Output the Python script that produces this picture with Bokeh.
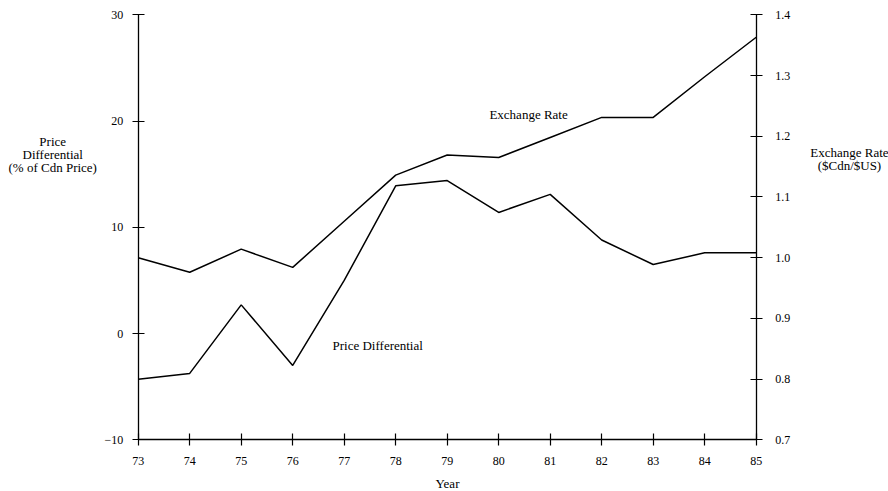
from bokeh.plotting import figure
from bokeh.models import (Range1d, LinearAxis, FixedTicker, Label, CustomJSTickFormatter)
from bokeh.embed import file_html
from bokeh.resources import INLINE

years = [73, 74, 75, 76, 77, 78, 79, 80, 81, 82, 83, 84, 85]
exchange_rate = [1.000, 0.976, 1.014, 0.984, 1.060, 1.136, 1.169, 1.165, 1.198, 1.231, 1.231, 1.298, 1.363]
price_diff = [-4.3, -3.75, 2.7, -3.0, 5.0, 13.9, 14.4, 11.4, 13.1, 8.8, 6.5, 7.6, 7.6]
left_ticks = [-10, 0, 10, 20, 30]
right_ticks = [0.7, 0.8, 0.9, 1.0, 1.1, 1.2, 1.3, 1.4]

FONT = "Liberation Serif"

# frame covers the whole canvas; axes are pinned with fixed_location
p = figure(width=888, height=491, min_border=0,
           x_range=Range1d(70.326, 87.569), y_range=Range1d(-14.866, 31.346),
           output_backend="svg", toolbar_location=None, x_axis_type=None, y_axis_type=None)
p.outline_line_color = None
p.background_fill_color = "white"
p.border_fill_color = "white"
p.extra_y_ranges = {"er": Range1d(0.61485, 1.42356)}

def style_axis(ax, standoff):
    ax.axis_line_color = "black"
    ax.axis_line_width = 1.3
    ax.major_tick_line_color = "black"
    ax.major_tick_line_width = 1.2
    ax.major_tick_in = 6
    ax.major_tick_out = 6
    ax.minor_tick_line_color = None
    ax.major_label_text_font = FONT
    ax.major_label_text_font_size = "12px"
    ax.major_label_text_color = "black"
    ax.major_label_standoff = standoff

xa = LinearAxis(ticker=FixedTicker(ticks=years), fixed_location=-10, bounds=(73, 85))
style_axis(xa, 11)
xa.axis_label = "Year"
xa.axis_label_text_font = FONT
xa.axis_label_text_font_size = "13px"
xa.axis_label_text_font_style = "normal"
xa.axis_label_text_color = "black"
xa.axis_label_standoff = 8
p.add_layout(xa, "below")

ya = LinearAxis(ticker=FixedTicker(ticks=left_ticks), fixed_location=73, bounds=(-10, 30))
style_axis(ya, 9)
p.add_layout(ya, "left")

ra = LinearAxis(y_range_name="er", ticker=FixedTicker(ticks=right_ticks),
                fixed_location=85, bounds=(0.7, 1.4))
ra.formatter = CustomJSTickFormatter(code="return tick.toFixed(1);")
style_axis(ra, 13)
p.add_layout(ra, "right")

p.line(years, price_diff, line_color="black", line_width=1.5)
p.line(years, exchange_rate, line_color="black", line_width=1.5, y_range_name="er")

def lab(x, y, t):
    p.add_layout(Label(x=x, y=y, text=t, text_font=FONT, text_font_size="13px",
                       text_color="black", text_align="center", text_baseline="middle"))

# in-plot annotations
lab(80.58, 20.62, "Exchange Rate")
lab(77.65, -1.12, "Price Differential")
# left axis title
lab(71.34, 18.08, "Price")
lab(71.34, 16.85, "Differential")
lab(71.34, 15.63, "(% of Cdn Price)")
# right axis title
lab(86.81, 17.04, "Exchange Rate")
lab(86.81, 15.82, "($Cdn/$US)")

open("out.html", "w").write(file_html(p, INLINE))
